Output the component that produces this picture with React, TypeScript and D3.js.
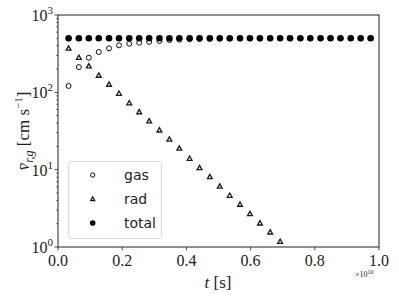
import React from 'react'
import * as d3 from 'd3'

const times = [0.033, 0.065, 0.096, 0.127, 0.159, 0.190, 0.222, 0.253, 0.284, 0.316, 0.347,
  0.378, 0.410, 0.441, 0.473, 0.504, 0.535, 0.567, 0.598, 0.629, 0.661, 0.692, 0.723, 0.755,
  0.786, 0.818, 0.849, 0.880, 0.912, 0.943, 0.974]
const gasVals = [121, 212, 280, 332, 371, 405, 425, 438, 449, 461, 475, 481, 486, 489, 492,
  494, 495, 496, 497, 498, 498, 499, 499, 499, 500, 500, 500, 500, 500, 500, 500]
const radVals = [371, 283, 219, 166, 127, 97, 73, 56, 42.6, 32.5, 24.7, 18.9, 14.0, 10.6, 8.1,
  6.1, 4.65, 3.56, 2.69, 2.04, 1.56, 1.18]
const totalVals = [500, 500, 500, 500, 500, 500, 500, 500, 500, 500, 500, 500, 500, 500, 500,
  500, 500, 500, 500, 500, 500, 500, 500, 500, 500, 500, 500, 500, 500, 500, 500]
const xTicks = [0, 0.2, 0.4, 0.6, 0.8, 1.0]
const yDecades = [0, 1, 2, 3]
const legendNames = ['gas', 'rad', 'total']

const W = 399
const H = 299
const left = 58, right = 379, top = 15, bottom = 247
const serif = '"Liberation Serif", "DejaVu Serif", serif'
const sans = '"DejaVu Sans", sans-serif'

function Marker({ kind, x, y, scale = 1 }: { kind: string; x: number; y: number; scale?: number }) {
  if (kind === 'gas') return <circle cx={x} cy={y} r={2.5 * scale} fill="none" stroke="#111" strokeWidth={1} />
  if (kind === 'rad') {
    const s = 2.4 * scale
    const p = `M${x},${y - s} L${x + s},${y + s * 0.8} L${x - s},${y + s * 0.8} Z`
    return <path d={p} fill="none" stroke="#1a1a1a" strokeWidth={1.3} strokeLinejoin="miter" />
  }
  return <circle cx={x} cy={y} r={3.3 * scale} fill="#000" />
}

export default function App() {
  const x = d3.scaleLinear().domain([0, 1]).range([left, right])
  const y = d3.scaleLog().domain([1, 1000]).range([bottom, top])

  const minor: number[] = []
  for (let d = 0; d < 3; d++) {
    for (let m = 2; m <= 9; m++) minor.push(m * Math.pow(10, d))
  }

  return (
    <svg width={W} height={H} style={{ position: 'absolute', left: 0, top: 0, background: '#fff' }}>
      <defs>
        <clipPath id="plot-clip">
          <rect x={left} y={top} width={right - left} height={bottom - top} />
        </clipPath>
      </defs>

      <g clipPath="url(#plot-clip)">
        {radVals.map((v, i) => <Marker key={'r' + i} kind="rad" x={x(times[i])} y={y(v)} />)}
        {gasVals.map((v, i) => <Marker key={'g' + i} kind="gas" x={x(times[i])} y={y(v)} />)}
      </g>
      {totalVals.map((v, i) => <Marker key={'t' + i} kind="total" x={x(times[i])} y={y(v)} />)}

      {/* axes frame */}
      <rect x={left} y={top} width={right - left} height={bottom - top} fill="none" stroke="#222" strokeWidth={1} />

      {/* x ticks */}
      {xTicks.map(t => (
        <g key={'xt' + t}>
          <line x1={x(t)} x2={x(t)} y1={bottom} y2={bottom + 3.5} stroke="#222" strokeWidth={0.8} />
          <text x={x(t)} y={266} textAnchor="middle" fontFamily={serif} fontSize={16} fill="#222">
            {t.toFixed(1)}
          </text>
        </g>
      ))}

      {/* y ticks */}
      {minor.map(v => (
        <line key={'ym' + v} x1={left - 2} x2={left} y1={y(v)} y2={y(v)} stroke="#222" strokeWidth={0.6} />
      ))}
      {yDecades.map(d => (
        <g key={'yt' + d}>
          <line x1={left - 3.5} x2={left} y1={y(Math.pow(10, d))} y2={y(Math.pow(10, d))} stroke="#222" strokeWidth={0.8} />
          <text x={left - 5} y={y(Math.pow(10, d)) + 6} textAnchor="end" fontFamily={serif} fontSize={16} fill="#222">
            10<tspan dy={-7} fontSize={11}>{d}</tspan>
          </text>
        </g>
      ))}

      {/* axis labels */}
      <text x={218} y={288} textAnchor="middle" fontFamily={serif} fontSize={17} fill="#222">
        <tspan fontStyle="italic">t</tspan> [s]
      </text>
      <text x={355} y={277} fontFamily={serif} fontSize={8} fill="#222">
        ×10<tspan dy={-3} fontSize={6}>10</tspan>
      </text>
      <text transform={`translate(29, ${(top + bottom) / 2}) rotate(-90)`} textAnchor="middle"
        fontFamily={serif} fontSize={17} fill="#222">
        <tspan fontStyle="italic">{'v\u0304'}</tspan>
        <tspan fontStyle="italic" fontSize={12} dy={4}>r,g</tspan>
        <tspan dy={-4}> [cm s</tspan>
        <tspan fontSize={11} dy={-7}>−1</tspan>
        <tspan dy={7}>]</tspan>
      </text>

      {/* legend */}
      <rect x={68.5} y={161.5} width={93} height={77} rx={3} fill="#fff" fillOpacity={0.8} stroke="#d8d8d8" strokeWidth={1} />
      {legendNames.map((n, i) => (
        <g key={n}>
          <Marker kind={n} x={92.7} y={175 + i * 24} scale={0.85} />
          <text x={124} y={175 + i * 24 + 5} fontFamily={sans} fontSize={14} fill="#222">{n}</text>
        </g>
      ))}
    </svg>
  )
}
